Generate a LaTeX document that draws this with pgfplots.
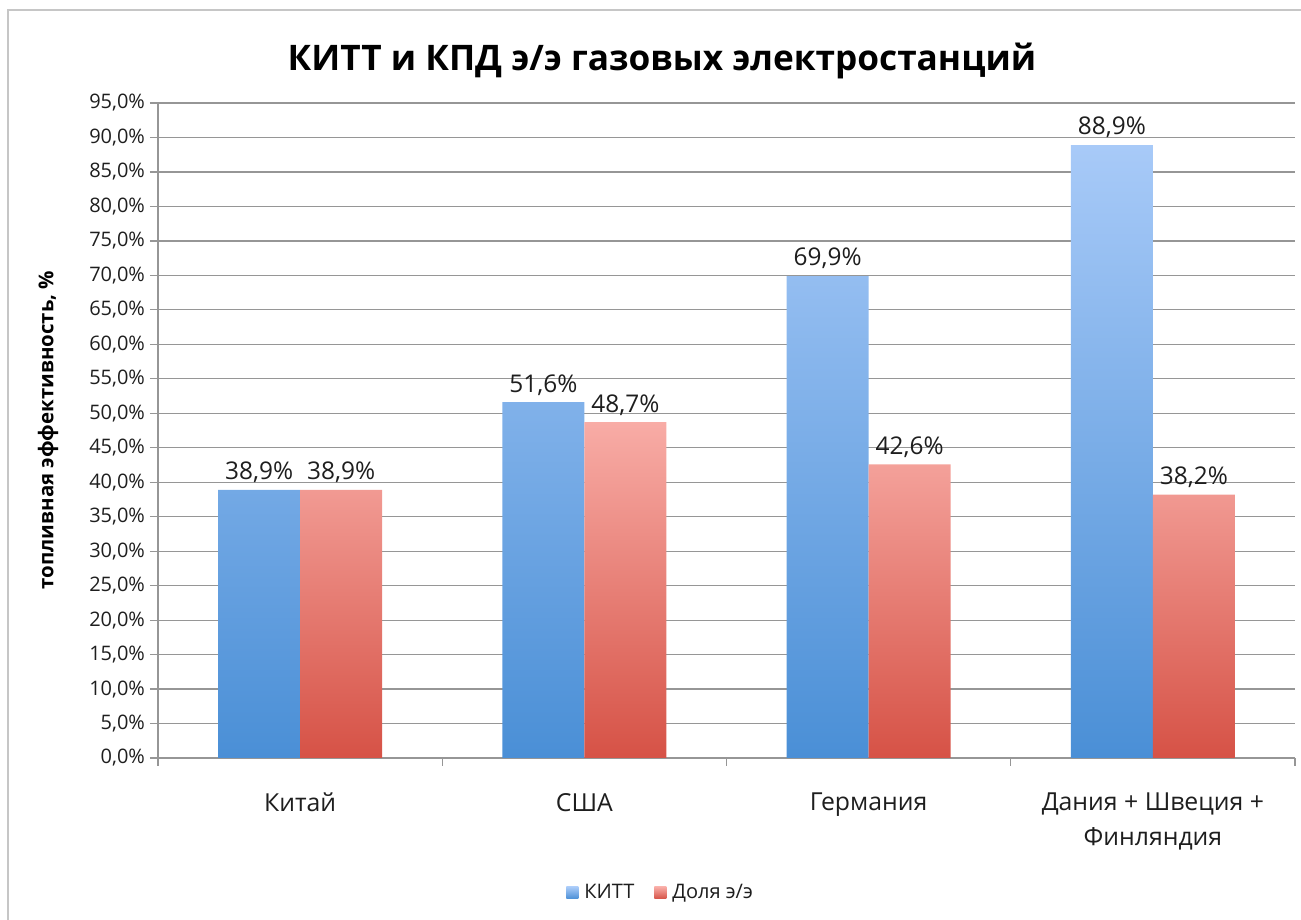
\documentclass[border=0pt]{standalone}
\usepackage{fontspec}
\setmainfont{Open Sans}
\usepackage{pgfplots}
\pgfplotsset{compat=1.18}
\definecolor{bluetop}{RGB}{168,202,248}
\definecolor{bluebot}{RGB}{74,143,214}
\definecolor{redtop}{RGB}{248,172,166}
\definecolor{redbot}{RGB}{214,82,70}
\definecolor{gridc}{RGB}{150,150,150}
\definecolor{txt}{RGB}{30,30,30}
\begin{document}
\begin{tikzpicture}[x=1pt,y=1pt]
\useasboundingbox (0,0) rectangle (650.5,460);
\draw[gray!45, line width=1.2pt] (4,-5) rectangle (660,455);
\node[font=\fontsize{17.6}{20}\selectfont\bfseries, text=black] at (331,429.5) {КИТТ и КПД э/э газовых электростанций};
\node[font=\fontsize{10.2}{12}\selectfont\bfseries, rotate=90, text=black] at (24,245) {топливная эффективность, \%};
\begin{axis}[
  at={(79pt,81pt)}, anchor=south west,
  scale only axis, width=568.5pt, height=327.5pt,
  xmin=-0.5, xmax=3.5, ymin=0, ymax=95,
  ytick={0,5,...,95},
  ymajorgrids, grid style={gridc, line width=0.6pt},
  axis x line*=bottom, axis y line*=left,
  axis line style={gridc, line width=0.6pt},
  tick style={gridc, line width=0.6pt},
  tick align=outside, major tick length=4pt,
  xtick={-0.5,0.5,1.5,2.5,3.5}, xticklabels={},
  extra x ticks={0,1,2,3},
  extra x tick labels={Китай, США, Германия, {Дания + Швеция +\\Финляндия}},
  extra x tick style={major tick length=0pt, grid=none,
     tick label style={font=\fontsize{12.4}{17.5}\selectfont, text=txt, align=center, yshift=-14pt}},
  /pgf/number format/assume math mode=true,
  yticklabel={\pgfmathprintnumber[fixed,fixed zerofill,precision=1,use comma]{\tick}\%},
  yticklabel style={font=\fontsize{10}{11}\selectfont, text=txt, xshift=1pt},
  ybar=0pt, bar width=41pt,
  nodes near coords={\pgfmathprintnumber[fixed,fixed zerofill,precision=1,use comma]{\pgfplotspointmeta}\%},
  every node near coord/.append style={font=\fontsize{12.2}{13}\selectfont, text=txt},
  legend style={at={(0.443,-0.206)}, anchor=center, draw=none, legend columns=2,
     font=\fontsize{10}{11}\selectfont, text=txt, column sep=1pt,
     /tikz/every even column/.append style={column sep=8pt}},
  legend image code/.code={\path[#1, draw=none] (0pt,-3pt) rectangle (6pt,3pt);},
]
\addplot[draw=none, top color=bluetop, bottom color=bluebot] coordinates {(0,38.9) (1,51.6) (2,69.9) (3,88.9)};
\addplot[draw=none, top color=redtop, bottom color=redbot] coordinates {(0,38.9) (1,48.7) (2,42.6) (3,38.2)};
\legend{КИТТ, Доля э/э}
\end{axis}
\end{tikzpicture}
\end{document}
